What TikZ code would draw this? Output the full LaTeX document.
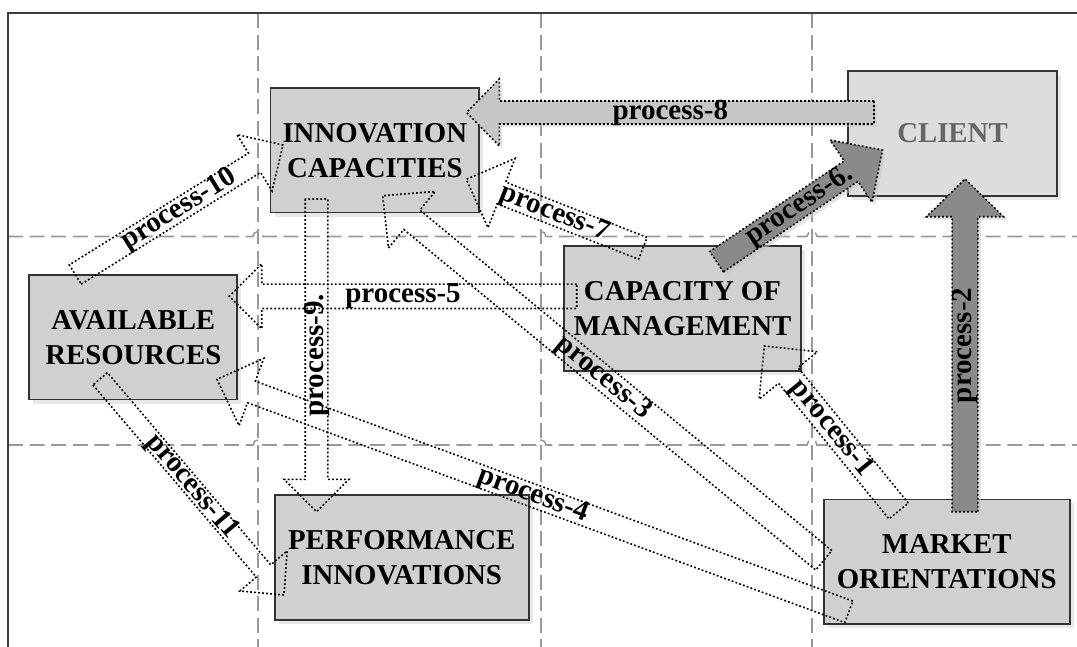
\documentclass[tikz,border=0pt]{standalone}
\usepackage{fontspec}
\setmainfont{Liberation Serif}
\usepackage{xcolor}
\usepackage{tikz}
\usetikzlibrary{calc}
\usetikzlibrary{shadows}
\definecolor{boxgray}{HTML}{D0D0D0}
\definecolor{clientgray}{HTML}{DDDDDD}
\definecolor{clienttext}{HTML}{666666}
\definecolor{flowlight}{HTML}{C6C6C6}
\definecolor{flowdark}{HTML}{8A8A8A}
\definecolor{gridgray}{HTML}{999999}
\definecolor{framegray}{HTML}{3C3C3C}

\tikzset{
  flow size/.code args={#1/#2/#3}{\def\flowshaft{#1}\def\flowhead{#2}\def\flowlen{#3}},
  flow size=6pt/18pt/18pt,
  flowline/.style={draw=black, line width=0.8pt, dash pattern=on 0.9pt off 1.1pt},
  flowfill/.style={fill=#1, drop shadow={shadow xshift=1.5pt, shadow yshift=-1.5pt, fill=black!22}},
  flowlabel/.style={font=\bfseries\fontsize{14.5}{16}\selectfont, sloped, inner sep=0pt},
  box/.style={draw=black!80, line width=0.9pt, fill=boxgray, inner sep=0pt,
    font=\bfseries\fontsize{14.4}{17.5}\selectfont,
    drop shadow={shadow xshift=2pt, shadow yshift=-2pt, fill=black!18}},
  gridline/.style={draw=gridgray, line width=0.8pt, dash pattern=on 7.5pt off 3.3pt}
}

% block arrow from (#2-tail) to (#2-tip), text along the shaft
\NewDocumentCommand{\flowarrow}{O{} m m O{}}{%
  \draw[flowline, #1] ($(#2-tail)!\flowshaft!-90:(#2-tip)$)
    -- ($($(#2-tip)!\flowlen!(#2-tail)$)!\flowshaft!-90:(#2-tip)$)
    -- ($($(#2-tip)!\flowlen!(#2-tail)$)!\flowhead!-90:(#2-tip)$)
    -- (#2-tip)
    -- ($($(#2-tip)!\flowlen!(#2-tail)$)!\flowhead!90:(#2-tip)$)
    -- ($($(#2-tip)!\flowlen!(#2-tail)$)!\flowshaft!90:(#2-tip)$)
    -- ($(#2-tail)!\flowshaft!90:(#2-tip)$) -- cycle;
  \path (#2-tail) -- (#2-tip) node[flowlabel, midway, #4] (#2-label) {#3};}

\begin{document}
\begin{tikzpicture}[x=0.5pt, y=-0.5pt, every node/.style={align=center}]
        \useasboundingbox (0,0) rectangle (1077,647);
        \def\jump{2.5pt}

        \draw[gridline] (258,13) -- (258,647);
        \draw[gridline] (541,13) -- (541,647);
        \draw[gridline] (812,13) -- (812,647);
        \foreach \y in {236.5,445} {
            \draw[gridline] (8,\y) -- (253,\y) arc[start angle=180, end angle=0, radius=\jump]
                -- (536,\y) arc[start angle=180, end angle=0, radius=\jump]
                -- (807,\y) arc[start angle=180, end angle=0, radius=\jump] -- (1077,\y);
        }
        \draw[framegray, line width=1pt] (8.3,647) -- (8.3,13.3) -- (1077,13.3);

        \begin{scope}[every node/.style={box, align=center, minimum height=62.3pt}]
            \node[minimum width=104.3pt] (inno) at (374.8,150.2) {INNOVATION\\CAPACITIES};
            \node[minimum width=104.5pt, fill=clientgray, text=clienttext] (client) at (952.5,133.5) {CLIENT};
            \node[minimum width=104pt] (avail) at (133.3,337.2) {AVAILABLE\\RESOURCES};
            \node[minimum width=118.5pt] (manage) at (682.5,308.3) {CAPACITY OF\\MANAGEMENT};
            \node[minimum width=126.9pt] (perf) at (401.7,557.5) {PERFORMANCE\\INNOVATIONS};
            \node[minimum width=123.1pt] (market) at (946.7,561.7) {MARKET\\ORIENTATIONS};
        \end{scope}

        \coordinate (p1-tail) at (898.6,511);   \coordinate (p1-tip) at (764.3,346);
        \coordinate (p2-tail) at (965,511.7);   \coordinate (p2-tip) at (965,179);
        \coordinate (p3-tail) at (823.8,560.3); \coordinate (p3-tip) at (382.7,195.7);
        \coordinate (p4-tail) at (848.8,611.8); \coordinate (p4-tip) at (217,379.3);
        \coordinate (p5-tail) at (576.7,296.3); \coordinate (p5-tip) at (229.3,296.3);
        \coordinate (p6-tail) at (716.6,261.7); \coordinate (p6-tip) at (882.5,150);
        \coordinate (p7-tail) at (642.8,248.3); \coordinate (p7-tip) at (466.3,179.3);
        \coordinate (p8-tail) at (874,112.5);   \coordinate (p8-tip) at (466.6,112.5);
        \coordinate (p9-tail) at (316.5,199);   \coordinate (p9-tip) at (316.5,511.7);
        \coordinate (p10-tail) at (75.3,274.5); \coordinate (p10-tip) at (283,145);
        \coordinate (p11-tail) at (100.2,378.8); \coordinate (p11-tip) at (284,595);

        \flowarrow[flow size=5.75pt/16.75pt/16.35pt, flowfill=flowlight]{p8}{process-8}
        \flowarrow[flow size=6.15pt/18.75pt/18.95pt, flowfill=flowdark]{p6}{process-6.}
        \flowarrow[flow size=6.4pt/19.25pt/18.85pt, flowfill=flowdark]{p2}{process-2}
        \flowarrow[flow size=5.7pt/16.6pt/16.8pt]{p10}{process-10}
        \flowarrow[flow size=5.65pt/16.2pt/16.2pt]{p9}{process-9.}[rotate=180]
        \flowarrow[flow size=6.1pt/16.25pt/16.2pt]{p5}{process-5}
        \flowarrow[flow size=5.85pt/18.6pt/18.9pt]{p7}{process-7}
        \flowarrow[flow size=6.3pt/18.35pt/18.9pt]{p3}{process-3}
        \flowarrow[flow size=5.75pt/17.95pt/18.35pt]{p4}{process-4}
        \flowarrow[flow size=4.75pt/15.5pt/15.8pt]{p11}{process-11}
        \flowarrow[flow size=6.25pt/18.8pt/19pt]{p1}{process-1}
    \end{tikzpicture}
\end{document}
